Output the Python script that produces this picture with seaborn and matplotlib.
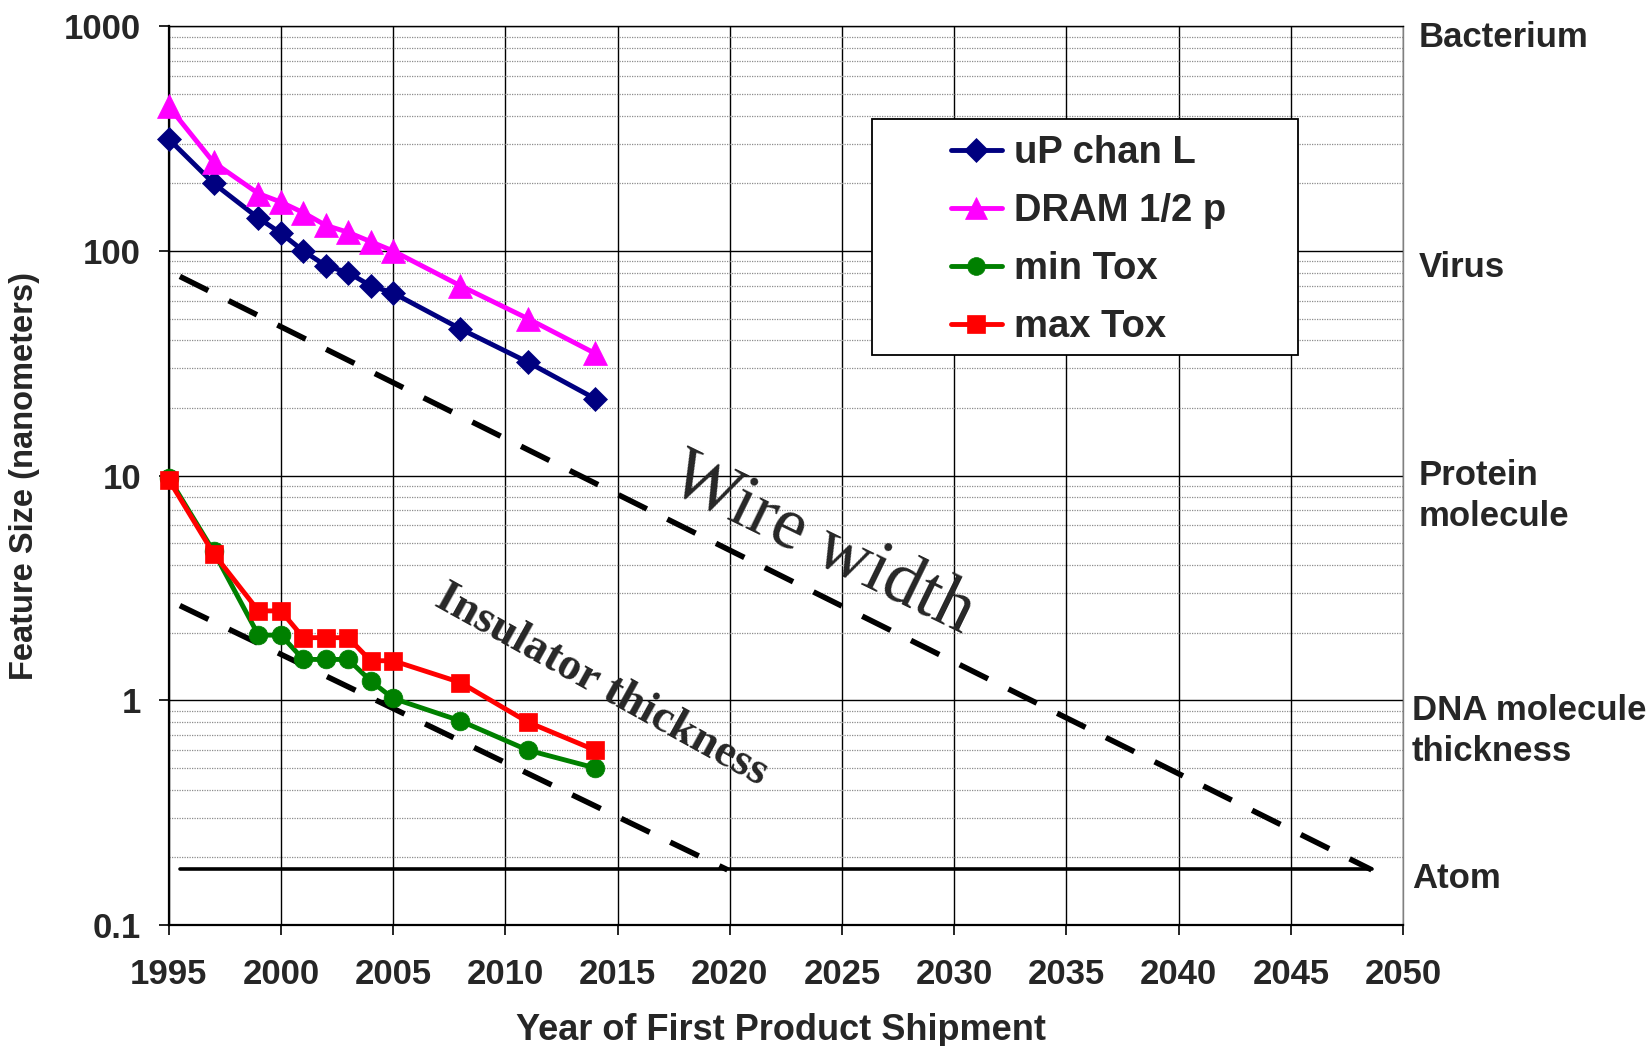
import numpy as np
import pandas as pd
import matplotlib
matplotlib.use("Agg")
import matplotlib.pyplot as plt
import matplotlib.patches as mpatches
import seaborn as sns

# ---------------- data ----------------
years = [1995, 1997, 1999, 2000, 2001, 2002, 2003, 2004, 2005, 2008, 2011, 2014]
up_chan_L = [315, 200, 140, 120, 100, 86, 80, 70, 65, 45, 32, 22]
dram_half_pitch = [440, 248, 180, 165, 148, 130, 121, 110, 100, 70, 50, 35]
min_tox = [9.8, 4.6, 1.95, 1.95, 1.52, 1.52, 1.52, 1.22, 1.02, 0.81, 0.6, 0.5]
max_tox = [9.6, 4.5, 2.5, 2.5, 1.9, 1.9, 1.9, 1.5, 1.5, 1.2, 0.8, 0.6]

series_names = ["uP chan L", "DRAM 1/2 p", "min Tox", "max Tox"]

# reference trend lines (year, size)
wire_trend_years = [1995.5, 2048.6]
wire_trend_sizes = [77, 0.176]
insulator_trend_years = [1995.5, 2019.9]
insulator_trend_sizes = [2.64, 0.176]
atom_years = [1995.5, 2048.6]
atom_sizes = [0.178, 0.178]

x_ticks = [1995, 2000, 2005, 2010, 2015, 2020, 2025, 2030, 2035, 2040, 2045, 2050]
y_ticks = [0.1, 1, 10, 100, 1000]
y_tick_labels = ["0.1", "1", "10", "100", "1000"]

scale_labels = ["Bacterium", "Virus", "Protein\nmolecule", "DNA molecule\nthickness", "Atom"]
scale_label_sizes = [890, 84, 8.1, 0.73, 0.161]

# ---------------- style ----------------
sns.set_theme(style="white")
plt.rcParams["font.family"] = ["Liberation Sans", "DejaVu Sans"]
plt.rcParams["font.weight"] = "bold"

fig = plt.figure(figsize=(16.52, 10.46), dpi=100)
ax = fig.add_axes([0.1021, 0.1157, 0.7472, 0.8592])

df = pd.DataFrame({
    "year": years * 4,
    "size": up_chan_L + dram_half_pitch + min_tox + max_tox,
    "series": sum([[n] * len(years) for n in series_names], []),
})

styles = {
    "uP chan L": dict(color="#000080", marker="D", markersize=12.5),
    "DRAM 1/2 p": dict(color="#FF00FF", marker="^", markersize=17),
    "min Tox": dict(color="#008000", marker="o", markersize=13.5),
    "max Tox": dict(color="#FF0000", marker="s", markersize=13.5),
}

# trend lines
ax.plot(wire_trend_years, wire_trend_sizes, color="black", linewidth=4.0,
        dashes=(5.7, 4.1), zorder=2)
ax.plot(insulator_trend_years, insulator_trend_sizes, color="black", linewidth=4.0,
        dashes=(5.7, 4.1), zorder=2)
ax.plot(atom_years, atom_sizes, color="black", linewidth=2.6, zorder=2)

for name in series_names:
    st = styles[name]
    sub = df[df["series"] == name]
    sns.lineplot(data=sub, x="year", y="size", ax=ax, color=st["color"],
                 marker=st["marker"], markersize=st["markersize"],
                 markeredgecolor=st["color"], markeredgewidth=0.5,
                 linewidth=3.5, label=name, zorder=5, clip_on=False)

ax.set_yscale("log")
ax.set_xlim(1995, 2050)
ax.set_ylim(0.1, 1000)
ax.set_xticks(x_ticks)
ax.set_xticklabels([str(t) for t in x_ticks], fontsize=25, fontweight="bold")
ax.set_yticks(y_ticks)
ax.set_yticklabels(y_tick_labels, fontsize=25, fontweight="bold")
ax.yaxis.set_minor_locator(matplotlib.ticker.LogLocator(base=10, subs=np.arange(2, 10)))
ax.yaxis.set_minor_formatter(matplotlib.ticker.NullFormatter())

ax.tick_params(axis="both", which="major", direction="out", length=7, width=1.2,
               color="black", bottom=True, left=True)
ax.tick_params(axis="x", pad=17)
ax.tick_params(axis="y", pad=13)
ax.tick_params(axis="y", which="minor", length=0)

ax.grid(True, which="major", axis="both", color="black", lw=1.0)
ax.grid(True, which="minor", axis="y", color="#8c8c8c", lw=0.9, linestyle=(0, (1, 1)))
ax.set_axisbelow(True)

for side in ["left", "bottom"]:
    ax.spines[side].set_color("black")
    ax.spines[side].set_linewidth(1.6)
ax.spines["top"].set_color("black")
ax.spines["top"].set_linewidth(1.0)
ax.spines["right"].set_color("#808080")
ax.spines["right"].set_linewidth(1.0)

ax.set_xlabel("Year of First Product Shipment", fontsize=26, fontweight="bold")
ax.set_ylabel("Feature Size (nanometers)", fontsize=23.5, fontweight="bold")
ax.xaxis.set_label_coords(0.496, -0.098)
ax.yaxis.set_label_coords(-0.104, 0.5)

# scale labels on the right
ytrans = ax.get_yaxis_transform()
for lab, val in zip(scale_labels, scale_label_sizes):
    xpos = 1.007 if ("DNA" in lab or "Atom" in lab) else 1.013
    ax.text(xpos, val, lab, transform=ytrans, ha="left", va="center",
            fontsize=25, fontweight="bold", linespacing=1.3, clip_on=False)

# annotations
ax.text(2024.1, 4.9, "Wire width", rotation=-26, rotation_mode="anchor",
        ha="center", va="center", fontsize=53, fontweight="normal",
        family=["Liberation Serif", "DejaVu Serif"], zorder=4)
ax.text(2014.3, 1.16, "Insulator thickness", rotation=-29, rotation_mode="anchor",
        ha="center", va="center", fontsize=33, fontweight="bold",
        family=["Liberation Serif", "DejaVu Serif"], zorder=4)

# legend box and legend
frame = mpatches.Rectangle((0.5278, 0.6606), 0.2579, 0.2256, transform=fig.transFigure,
                           facecolor="white", edgecolor="black", lw=1.3, zorder=9,
                           clip_on=False)
ax.add_patch(frame)
handles, labels = ax.get_legend_handles_labels()
leg = ax.legend(handles, labels, loc="upper left",
                bbox_to_anchor=(0.5757, 0.8706), bbox_transform=fig.transFigure,
                frameon=False, borderpad=0, borderaxespad=0,
                handlelength=1.33, handletextpad=0.33, labelspacing=0.575,
                prop={"size": 27.5, "weight": "bold"}, markerscale=0.95)
leg.set_zorder(10)

fig.savefig("out.png", dpi=100)
